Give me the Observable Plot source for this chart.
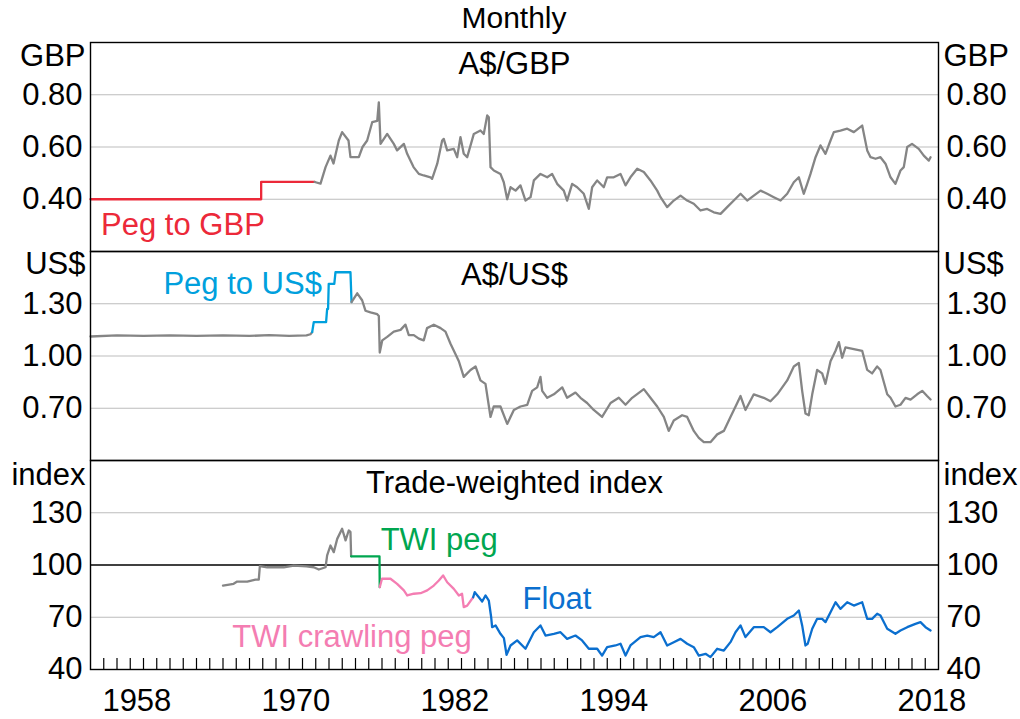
<!DOCTYPE html>
<html><head><meta charset="utf-8">
<script src="https://cdn.jsdelivr.net/npm/d3@7"></script>
<script src="https://cdn.jsdelivr.net/npm/@observablehq/plot@0.6"></script>
<style>
body{margin:0;background:#fff;font-family:"Liberation Sans",Arial,sans-serif;}
#wrap{position:relative;width:1020px;height:719px;background:#fff;}
#title{position:absolute;left:90px;width:848px;top:0;height:36px;line-height:36px;text-align:center;font-size:30px;color:#000;}
.panel{position:absolute;left:0;}
</style></head><body><div id="wrap"><div id="title">Monthly</div></div>
<script>
// ---------- data (decimal year, value) ----------
const audGbpPeg = [[1955.0,0.40],[1967.88,0.4667],[1971.92,0.4667]];
const audGbpFloat = [[1971.92,0.466],[1972.36,0.46],[1972.74,0.523],[1973.11,0.567],[1973.34,0.537],[1973.74,0.625],[1973.99,0.657],[1974.47,0.625],[1974.62,0.561],[1975.25,0.561],[1975.53,0.60],[1975.88,0.625],[1976.26,0.695],[1976.64,0.70],[1976.76,0.771],[1976.89,0.612],[1977.39,0.65],[1977.89,0.612],[1978.14,0.587],[1978.65,0.612],[1978.9,0.574],[1979.38,0.523],[1979.78,0.497],[1980.15,0.491],[1980.66,0.484],[1980.78,0.478],[1980.91,0.497],[1981.17,0.536],[1981.54,0.625],[1981.66,0.631],[1981.92,0.587],[1982.42,0.593],[1982.67,0.561],[1982.92,0.638],[1983.17,0.574],[1983.43,0.561],[1983.93,0.65],[1984.43,0.663],[1984.68,0.65],[1984.94,0.721],[1985.06,0.714],[1985.19,0.523],[1985.44,0.51],[1985.94,0.497],[1986.19,0.465],[1986.45,0.40],[1986.7,0.446],[1987.08,0.433],[1987.45,0.453],[1987.83,0.395],[1988.21,0.408],[1988.46,0.472],[1988.96,0.497],[1989.47,0.484],[1989.84,0.497],[1990.22,0.459],[1990.72,0.433],[1990.97,0.395],[1991.35,0.459],[1991.73,0.446],[1992.23,0.421],[1992.61,0.363],[1992.86,0.446],[1993.24,0.472],[1993.74,0.446],[1993.99,0.484],[1994.49,0.484],[1995.0,0.497],[1995.38,0.453],[1995.75,0.484],[1996.26,0.517],[1996.76,0.504],[1997.26,0.472],[1997.77,0.433],[1998.02,0.408],[1998.52,0.37],[1999.02,0.395],[1999.53,0.414],[2000.03,0.395],[2000.53,0.383],[2001.04,0.357],[2001.54,0.363],[2002.04,0.35],[2002.55,0.344],[2003.05,0.37],[2003.55,0.395],[2004.06,0.421],[2004.56,0.395],[2005.06,0.414],[2005.57,0.433],[2006.07,0.421],[2006.57,0.408],[2007.08,0.395],[2007.58,0.421],[2008.08,0.465],[2008.46,0.484],[2008.83,0.421],[2009.09,0.459],[2009.34,0.497],[2009.72,0.561],[2010.09,0.606],[2010.47,0.574],[2010.85,0.625],[2011.1,0.657],[2011.6,0.663],[2012.11,0.67],[2012.61,0.657],[2013.24,0.682],[2013.62,0.587],[2013.87,0.561],[2014.25,0.555],[2014.62,0.561],[2015.0,0.536],[2015.38,0.484],[2015.75,0.459],[2016.13,0.51],[2016.38,0.523],[2016.64,0.60],[2017.0,0.612],[2017.51,0.593],[2017.89,0.567],[2018.27,0.548],[2018.4,0.561]];

const audUsdFixed = [[1955.0,1.112],[1957.0,1.118],[1959.0,1.115],[1961.0,1.118],[1963.0,1.116],[1965.0,1.118],[1967.0,1.115],[1968.5,1.12],[1970.0,1.116],[1971.3,1.118],[1971.6,1.125],[1971.73,1.137]];
const audUsdPeg = [[1971.73,1.137],[1971.85,1.194],[1972.78,1.194],[1972.86,1.27],[1972.93,1.27],[1972.98,1.414],[1973.4,1.414],[1973.49,1.481],[1974.62,1.481],[1974.7,1.31]];
const audUsdFloat = [[1974.7,1.31],[1975.13,1.36],[1975.5,1.32],[1975.75,1.26],[1976.13,1.25],[1976.64,1.24],[1976.76,1.23],[1976.83,1.02],[1977.02,1.09],[1977.39,1.11],[1977.89,1.14],[1978.4,1.15],[1978.77,1.18],[1979.02,1.12],[1979.4,1.12],[1979.78,1.10],[1980.15,1.09],[1980.4,1.16],[1980.91,1.18],[1981.42,1.16],[1981.79,1.14],[1982.17,1.07],[1982.55,1.01],[1982.8,0.97],[1983.17,0.88],[1983.68,0.92],[1984.06,0.94],[1984.43,0.86],[1984.81,0.84],[1985.19,0.65],[1985.43,0.71],[1985.94,0.71],[1986.45,0.61],[1986.95,0.69],[1987.45,0.71],[1987.96,0.72],[1988.33,0.80],[1988.71,0.82],[1988.96,0.88],[1989.09,0.80],[1989.47,0.76],[1989.97,0.78],[1990.6,0.82],[1990.97,0.76],[1991.6,0.79],[1991.98,0.76],[1992.48,0.73],[1992.98,0.69],[1993.61,0.65],[1994.25,0.73],[1994.87,0.76],[1995.38,0.72],[1995.88,0.76],[1996.76,0.81],[1997.26,0.76],[1997.77,0.71],[1998.27,0.65],[1998.64,0.57],[1999.02,0.63],[1999.65,0.66],[2000.03,0.65],[2000.53,0.57],[2000.91,0.53],[2001.29,0.505],[2001.79,0.505],[2002.3,0.55],[2002.8,0.57],[2003.3,0.65],[2003.81,0.73],[2004.06,0.77],[2004.43,0.69],[2005.06,0.78],[2005.81,0.76],[2006.32,0.74],[2006.83,0.78],[2007.58,0.86],[2008.08,0.94],[2008.46,0.96],[2008.71,0.80],[2008.96,0.67],[2009.21,0.66],[2009.47,0.78],[2009.84,0.92],[2010.22,0.90],[2010.47,0.84],[2010.85,0.97],[2011.23,1.03],[2011.48,1.08],[2011.73,0.99],[2011.98,1.05],[2012.61,1.04],[2013.24,1.03],[2013.62,0.92],[2013.99,0.90],[2014.37,0.94],[2014.62,0.92],[2015.13,0.78],[2015.38,0.76],[2015.75,0.71],[2016.13,0.72],[2016.51,0.76],[2016.89,0.75],[2017.39,0.78],[2017.77,0.80],[2018.14,0.77],[2018.4,0.75]];

const twiEarly = [[1965.0,88.2],[1965.8,89.2],[1966.07,90.5],[1966.83,90.5],[1967.45,91.6],[1967.7,91.6],[1967.78,99.3],[1968.33,98.7],[1969.59,98.7],[1970.34,99.7],[1971.3,99.2],[1971.85,98.7],[1972.23,97.4],[1972.74,98.7],[1972.86,105.5],[1973.11,111.2],[1973.36,107.4],[1973.62,115],[1973.99,120.8],[1974.25,114.1],[1974.49,119.8],[1974.62,119],[1974.67,105]];
const twiPeg = [[1974.67,105],[1976.81,105],[1976.83,87.3]];
const twiCrawl = [[1976.83,87.3],[1977.0,92.1],[1977.64,92.1],[1978.14,89.2],[1978.65,85.4],[1978.9,82.5],[1979.4,83.5],[1979.91,83.8],[1980.41,85.4],[1980.91,88.2],[1981.29,91.1],[1981.61,94],[1981.92,90.1],[1982.42,86.3],[1982.8,82.5],[1983.04,83.5],[1983.17,75.8],[1983.43,76.7],[1983.88,81.5]];
const twiFloat = [[1983.88,81.5],[1984.0,84.4],[1984.31,81.5],[1984.56,79],[1984.81,82.5],[1985.06,79.6],[1985.24,70],[1985.31,64.3],[1985.57,65.3],[1985.94,60.5],[1986.2,58],[1986.4,48.4],[1986.7,53.8],[1987.2,56.7],[1987.83,51.9],[1988.46,61.4],[1988.96,65.3],[1989.34,59.5],[1989.97,60.5],[1990.47,61.4],[1990.97,57.6],[1991.6,59.5],[1992.1,56.7],[1992.61,51.9],[1993.24,51.9],[1993.61,48],[1993.99,52.8],[1994.62,53.8],[1995.0,54.8],[1995.38,48],[1995.75,53.8],[1996.51,58.6],[1997.02,59.5],[1997.51,58.6],[1998.02,61.4],[1998.52,53.8],[1999.02,55.7],[1999.53,57.6],[2000.03,54.8],[2000.53,52.8],[2000.91,48],[2001.42,49],[2001.79,47.1],[2002.3,51.9],[2002.8,50.9],[2003.3,55.7],[2003.68,61.4],[2004.06,65.3],[2004.43,58.6],[2005.06,64.3],[2005.81,64.3],[2006.32,61.4],[2006.83,64.3],[2007.58,69.1],[2008.08,71],[2008.46,73.9],[2008.71,65.3],[2008.96,53.8],[2009.13,54.8],[2009.47,63.4],[2009.84,69.1],[2010.22,69.1],[2010.47,67.2],[2010.85,72.9],[2011.23,78.6],[2011.6,74.8],[2012.11,78.6],[2012.61,76.7],[2013.24,78.6],[2013.62,69.1],[2013.99,69.1],[2014.37,72],[2014.62,71],[2015.13,63.4],[2015.75,60.5],[2016.13,62.4],[2016.64,64.3],[2017.26,66.2],[2017.64,67.2],[2018.02,64.3],[2018.4,62.4]];

const gbpTicks = [0.40, 0.60, 0.80];
const usdTicks = [0.70, 1.00, 1.30];
const twiTicks = [40, 70, 100, 130];
const yearLabels = [1958, 1970, 1982, 1994, 2006, 2018];
const yearTicks = d3.range(1956, 2019);

// ---------- styles ----------
const GRAY = "#858585", RED = "#ec2939", CYAN = "#00a0dd", GREEN = "#00a650", PINK = "#f47db2", BLUE = "#0b6fcf";
const FS = 31;
const X_DOMAIN = [1955, 2019];
const svgStyle = "overflow:visible;background:transparent;font-family:'Liberation Sans',Arial,sans-serif;font-size:31px;color:#000;";
const line = (data, stroke, extra = {}) => Plot.line(data, {x: d => d[0], y: d => d[1], stroke, strokeWidth: 2.3, ...extra});
const unitLabels = (unit, dy) => [
  Plot.text([unit], {text: d => d, frameAnchor: "top-left", dx: -5, dy, lineAnchor: "middle", textAnchor: "end", fontSize: FS}),
  Plot.text([unit], {text: d => d, frameAnchor: "top-right", dx: 5, dy, lineAnchor: "middle", textAnchor: "start", fontSize: FS})
];
const yAxes = (ticks, fmt) => [
  Plot.axisY(ticks, {anchor: "left", tickSize: 0, tickPadding: 8, tickFormat: fmt, fontSize: FS, label: null}),
  Plot.axisY(ticks, {anchor: "right", tickSize: 0, tickPadding: 8, tickFormat: fmt, fontSize: FS, label: null})
];
const panelTitle = (t, dy) => Plot.text([t], {text: d => d, frameAnchor: "top", dy, lineAnchor: "middle", fontSize: FS});
const base = (h, mb) => ({width: 1020, height: h, marginLeft: 90, marginRight: 82, marginTop: 0, marginBottom: mb, style: svgStyle,
  x: {domain: X_DOMAIN, axis: null}});

function place(svg, top) { svg.classList.add("panel"); svg.style.top = top + "px"; svg.style.position = "absolute"; document.getElementById("wrap").appendChild(svg); }

// Panel 1: A$/GBP
const p1 = Plot.plot({...base(209, 0), y: {domain: [0.2, 1.0], axis: null},
  marks: [
    Plot.gridY(gbpTicks, {stroke: "#bdbdbd", strokeOpacity: 1, strokeWidth: 1.2}),
    ...yAxes(gbpTicks, d => d.toFixed(2)),
    line(audGbpPeg, RED, {curve: "step-after"}),
    line(audGbpFloat, GRAY),
    panelTitle("A$/GBP", 22),
    ...unitLabels("GBP", 14),
    Plot.text(["Peg to GBP"], {text: d => d, x: 1955.8, y: 0.30, textAnchor: "start", fill: RED, fontSize: FS}),
    Plot.frame({stroke: "#000", strokeWidth: 1.4})
  ]});
place(p1, 42);

// Panel 2: A$/US$
const p2 = Plot.plot({...base(209, 0), y: {domain: [0.4, 1.6], axis: null},
  marks: [
    Plot.gridY(usdTicks, {stroke: "#bdbdbd", strokeOpacity: 1, strokeWidth: 1.2}),
    ...yAxes(usdTicks, d => d.toFixed(2)),
    line(audUsdFixed, GRAY),
    line(audUsdPeg, CYAN),
    line(audUsdFloat, GRAY),
    panelTitle("A$/US$", 24),
    ...unitLabels("US$", 13),
    Plot.text(["Peg to US$"], {text: d => d, x: 1960.5, y: 1.414, textAnchor: "start", fill: CYAN, fontSize: FS}),
    Plot.frame({stroke: "#000", strokeWidth: 1.4})
  ]});
place(p2, 251);

// Panel 3: TWI
const p3 = Plot.plot({...base(259, 50), y: {domain: [40, 160], axis: null},
  marks: [
    Plot.gridY([70, 130], {stroke: "#bdbdbd", strokeOpacity: 1, strokeWidth: 1.2}),
    Plot.ruleY([100], {stroke: "#000", strokeWidth: 1.3}),
    ...yAxes(twiTicks, d => String(d)),
    Plot.ruleX(yearTicks, {x: d => d, insetTop: 198, stroke: "#000", strokeWidth: 1.2}),
    Plot.axisX(yearLabels.map(y => y + 0.5), {tickSize: 0, tickPadding: 19, tickFormat: d => String(Math.floor(d)), fontSize: FS, label: null}),
    line(twiEarly, GRAY),
    line(twiPeg, GREEN),
    line(twiCrawl, PINK),
    line(twiFloat, BLUE),
    panelTitle("Trade-weighted index", 23),
    ...unitLabels("index", 15),
    Plot.text(["TWI peg"], {text: d => d, x: 1976.9, y: 114.1, textAnchor: "start", fill: GREEN, fontSize: FS}),
    Plot.text(["TWI crawling peg"], {text: d => d, x: 1965.7, y: 58.5, textAnchor: "start", fill: PINK, fontSize: FS}),
    Plot.text(["Float"], {text: d => d, x: 1987.6, y: 80.3, textAnchor: "start", fill: BLUE, fontSize: FS}),
    Plot.frame({stroke: "#000", strokeWidth: 1.4})
  ]});
place(p3, 460);
</script></body></html>
